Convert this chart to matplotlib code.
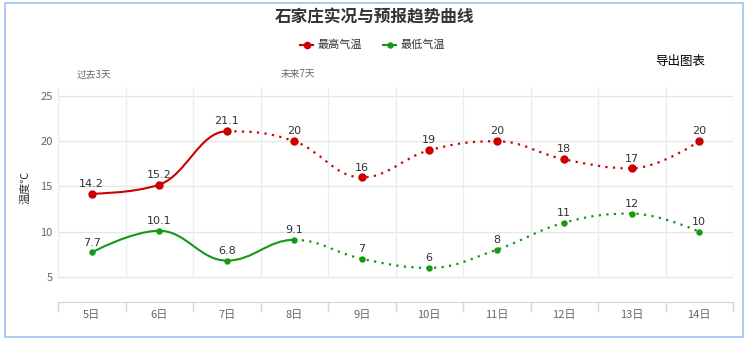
import matplotlib
matplotlib.use("Agg")
import matplotlib.pyplot as plt
from matplotlib.path import Path
from matplotlib.patches import PathPatch, Rectangle
from matplotlib.lines import Line2D

plt.rcParams['font.family'] = ['Noto Sans CJK SC', 'DejaVu Sans']

days = ["5日", "6日", "7日", "8日", "9日", "10日", "11日", "12日", "13日", "14日"]
high = [14.2, 15.2, 21.1, 20, 16, 19, 20, 18, 17, 20]
low = [7.7, 10.1, 6.8, 9.1, 7, 6, 8, 11, 12, 10]
# index of the last observed day for each series (forecast drawn dotted after it)
high_obs_end = 2
low_obs_end = 3
yticks = [5, 10, 15, 20, 25]

RED = "#cc0000"
GREEN = "#139913"
GRID = "#e6e6e6"
AXIS = "#ccd6eb"


def spline_controls(xs, ys, smoothing=1.5):
    """Highcharts-style spline control points for each point."""
    n = len(xs)
    left = [(xs[i], ys[i]) for i in range(n)]
    right = [(xs[i], ys[i]) for i in range(n)]
    denom = smoothing + 1
    for i in range(1, n - 1):
        px, py = xs[i], ys[i]
        lx, ly = xs[i - 1], ys[i - 1]
        nx, ny = xs[i + 1], ys[i + 1]
        lcx = (smoothing * px + lx) / denom
        lcy = (smoothing * py + ly) / denom
        rcx = (smoothing * px + nx) / denom
        rcy = (smoothing * py + ny) / denom
        corr = 0
        if rcx != lcx:
            corr = (rcy - lcy) * (rcx - px) / (rcx - lcx) + py - rcy
        lcy += corr
        rcy += corr
        if lcy > ly and lcy > py:
            lcy = max(ly, py)
            rcy = 2 * py - lcy
        elif lcy < ly and lcy < py:
            lcy = min(ly, py)
            rcy = 2 * py - lcy
        if rcy > ny and rcy > py:
            rcy = max(ny, py)
            lcy = 2 * py - rcy
        elif rcy < ny and rcy < py:
            rcy = min(ny, py)
            lcy = 2 * py - rcy
        left[i] = (lcx, lcy)
        right[i] = (rcx, rcy)
    return left, right


def spline_path(xs, ys, left, right, start, stop):
    verts = [(xs[start], ys[start])]
    codes = [Path.MOVETO]
    for i in range(start + 1, stop + 1):
        verts += [right[i - 1], left[i], (xs[i], ys[i])]
        codes += [Path.CURVE4] * 3
    return Path(verts, codes)


def draw_series(ax, ys, split, color, ms):
    xs = list(range(len(ys)))
    left, right = spline_controls(xs, ys)
    solid = spline_path(xs, ys, left, right, 0, split)
    dotted = spline_path(xs, ys, left, right, split, len(ys) - 1)
    ax.add_patch(PathPatch(solid, fill=False, edgecolor=color, lw=1.5, zorder=3))
    ax.add_patch(PathPatch(dotted, fill=False, edgecolor=color, lw=1.6,
                           linestyle=(0, (1, 2.4)), zorder=3))
    ax.plot(xs, ys, "o", color=color, ms=ms, zorder=4)
    for x, y in zip(xs, ys):
        ax.annotate(f"{y:g}", (x, y), xytext=(0, 3.5), textcoords="offset points",
                    ha="center", va="bottom", fontsize=8, color="#333333",
                    family=["DejaVu Sans"], zorder=5)


fig = plt.figure(figsize=(7.5, 3.4), dpi=100)
fig.patches.append(Rectangle((5 / 750, 3 / 340), 738 / 750, 334 / 340,
                             transform=fig.transFigure, fill=False,
                             edgecolor="#99c2f0", lw=1.2))

ax = fig.add_axes([58 / 750, 1 - 302 / 340, 675 / 750, 215 / 340])
ax.set_xlim(-0.5, 9.5)
ax.set_ylim(2.22, 26.0)

for v in yticks:
    ax.axhline(v, color=GRID, lw=1, zorder=1)
for b in [i + 0.5 for i in range(-1, 10)]:
    ax.plot([b, b], [5, 26.0], color="#e8ecf6", lw=1, zorder=1,
            solid_capstyle="butt")

draw_series(ax, high, high_obs_end, RED, 5)
draw_series(ax, low, low_obs_end, GREEN, 3.6)

for s in ["top", "right", "left"]:
    ax.spines[s].set_visible(False)
ax.spines["bottom"].set_color(AXIS)

ax.set_xticks([i + 0.5 for i in range(-1, 10)])
ax.set_xticklabels([])
ax.set_xticks(range(len(days)), minor=True)
ax.set_xticklabels(days, minor=True)
ax.tick_params(axis="x", which="major", length=7, color=AXIS, width=1)
ax.tick_params(axis="x", which="minor", length=0, pad=6, labelsize=8,
               labelcolor="#666666")
ax.set_yticks(yticks)
ax.tick_params(axis="y", length=0, pad=4, labelsize=8, labelcolor="#666666")
ax.set_ylabel("温度℃", fontsize=8, color="#333333")
ax.yaxis.set_label_coords(-28 / 675, (302 - 187) / 215)

fig.text(0.5, 1 - 17 / 340, "石家庄实况与预报趋势曲线", ha="center", va="center",
         fontsize=12, fontweight="bold", color="#333333")

# legend row
legend_y = 1 - 45 / 340
for x0, color, label, ms in [(300, RED, "最高气温", 4.5), (383, GREEN, "最低气温", 3.6)]:
    fig.add_artist(Line2D([x0 / 750, (x0 + 13) / 750], [legend_y, legend_y],
                          color=color, lw=1.5, transform=fig.transFigure))
    fig.add_artist(Line2D([(x0 + 6.5) / 750], [legend_y], color=color, marker="o",
                          ms=ms, transform=fig.transFigure))
    fig.text((x0 + 18) / 750, legend_y, label, ha="left", va="center",
             fontsize=8, color="#333333")

fig.text(680 / 750, 1 - 62 / 340, "导出图表", ha="center", va="center",
         fontsize=9, color="#000000")
fig.text(94 / 750, 1 - 74 / 340, "过去3天", ha="center", va="center",
         fontsize=7, color="#666666")
fig.text(298 / 750, 1 - 74 / 340, "未来7天", ha="center", va="center",
         fontsize=7, color="#666666")

fig.savefig("out.png", dpi=100)
